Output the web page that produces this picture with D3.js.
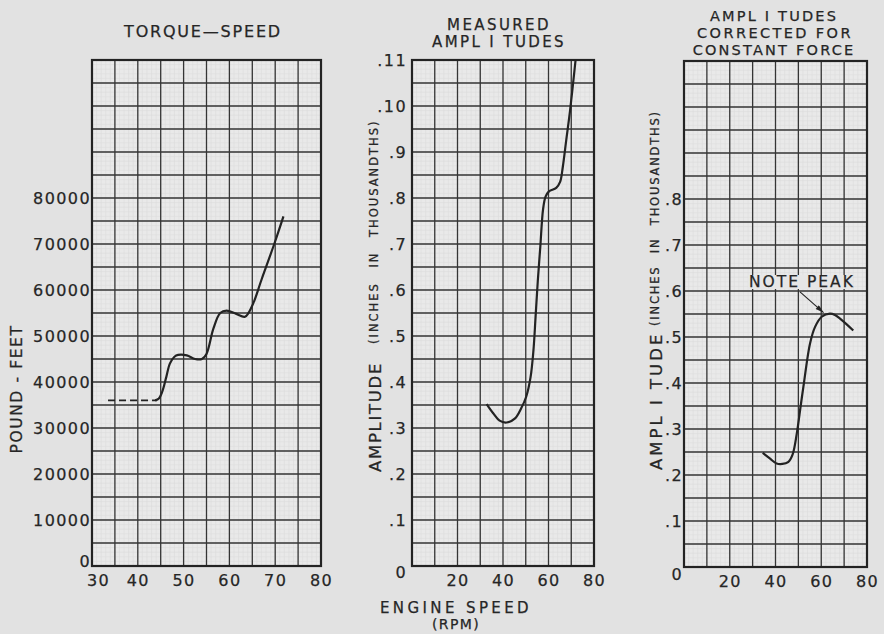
<!DOCTYPE html>
<html><head><meta charset="utf-8">
<script src="https://cdn.jsdelivr.net/npm/d3@7"></script>
<style>
body{margin:0;background:#e2e2e2}
svg{display:block}
text{font-family:"DejaVu Sans",Verdana,sans-serif;fill:#262626;stroke:#262626;stroke-width:0.25px}
</style>
</head><body>
<svg id="c" width="884" height="634"></svg>
<script>
// ---------- data ----------
const torqueDashRpm = [33.5, 44.2];
const torqueDashVal = [36000, 36000];
const torqueRpm = [43.8, 44.6, 45.3, 46.2, 47.0, 48.0, 48.8, 50.7, 52.5, 54.0, 55.0, 56.5, 58.0, 59.4, 61.5, 63.4, 64.9, 67.1, 70.0, 71.8];
const torqueVal = [36000, 36400, 37800, 41000, 44000, 45500, 45900, 45800, 45000, 45000, 46100, 51600, 55000, 55500, 54800, 54200, 56400, 62500, 70600, 76000];

const measuredRpm = [32.8, 35.7, 38.5, 41.6, 45.3, 48.0, 50.2, 52.1, 53.4, 54.3, 55.3, 56.4, 57.6, 58.7, 60.1, 63.4, 65.1, 66.3, 67.8, 69.5, 71.9];
const measuredAmp = [0.352, 0.332, 0.316, 0.312, 0.321, 0.343, 0.368, 0.410, 0.470, 0.540, 0.620, 0.694, 0.775, 0.803, 0.814, 0.822, 0.835, 0.868, 0.926, 0.991, 1.100];

const correctedRpm = [34.4, 37.5, 40.5, 43.0, 45.5, 47.5, 49.3, 51.0, 52.2, 55.1, 57.3, 60.2, 63.8, 66.0, 68.2, 71.0, 74.0];
const correctedAmp = [0.248, 0.236, 0.225, 0.224, 0.228, 0.245, 0.290, 0.350, 0.392, 0.486, 0.522, 0.544, 0.551, 0.548, 0.540, 0.528, 0.514];

const torqueXTicks = [30, 40, 50, 60, 70, 80];
const torqueYTicks = [0, 10000, 20000, 30000, 40000, 50000, 60000, 70000, 80000];
const torqueYLabels = ["0", "10000", "20000", "30000", "40000", "50000", "60000", "70000", "80000"];

const ampXTicks = [20, 40, 60, 80];
const measuredYTicks = [0, 0.1, 0.2, 0.3, 0.4, 0.5, 0.6, 0.7, 0.8, 0.9, 1.0, 1.1];
const measuredYLabels = ["0", ".1", ".2", ".3", ".4", ".5", ".6", ".7", ".8", ".9", ".10", ".11"];
const correctedYTicks = [0, 0.1, 0.2, 0.3, 0.4, 0.5, 0.6, 0.7, 0.8];
const correctedYLabels = ["0", ".1", ".2", ".3", ".4", ".5", ".6", ".7", ".8"];

const notePeak = {label: "NOTE PEAK", from: [50.7, 0.598], to: [61.0, 0.553]};

// ---------- drawing ----------
const svg = d3.select("#c");
svg.append("rect").attr("width", 884).attr("height", 634).attr("fill", "#e2e2e2");
svg.append("defs").append("marker").attr("id", "arr").attr("viewBox", "0 0 10 6").attr("refX", 10).attr("refY", 3)
  .attr("markerWidth", 10).attr("markerHeight", 5).attr("orient", "auto").attr("markerUnits", "userSpaceOnUse")
  .append("path").attr("d", "M0,0 L10,3 L0,6 Z").attr("fill", "#232323");

const ink = "#232323";

function grid(g, x, y, xStep, yStep) {
  const [x0, x1] = x.domain(), [y0, y1] = y.domain();
  const L = x.range()[0], R = x.range()[1], B = y.range()[0], T = y.range()[1];
  g.append("rect").attr("x", L).attr("y", T).attr("width", R - L).attr("height", B - T).attr("fill", "#e9e9e9");
  const nx = Math.round((x1 - x0) / xStep), ny = Math.round((y1 - y0) / yStep);
  const subX = d3.range(0, nx * 5 + 1).map(i => x0 + i * xStep / 5);
  const subY = d3.range(0, ny * 5 + 1).map(i => y0 + i * yStep / 5);
  const sg = g.append("g").attr("stroke", "#dcdcdc").attr("stroke-width", 0.6);
  sg.selectAll(".sx").data(subX).join("line").attr("x1", d => x(d)).attr("x2", d => x(d)).attr("y1", T).attr("y2", B);
  sg.selectAll(".sy").data(subY).join("line").attr("y1", d => y(d)).attr("y2", d => y(d)).attr("x1", L).attr("x2", R);
  const mx = d3.range(0, nx + 1).map(i => x0 + i * xStep);
  const my = d3.range(0, ny + 1).map(i => y0 + i * yStep);
  const mg = g.append("g").attr("stroke", "#353535").attr("stroke-width", 1.3);
  mg.selectAll(".mx").data(mx).join("line").attr("x1", d => x(d)).attr("x2", d => x(d)).attr("y1", T).attr("y2", B);
  mg.selectAll(".my").data(my).join("line").attr("y1", d => y(d)).attr("y2", d => y(d)).attr("x1", L).attr("x2", R);
  g.append("rect").attr("x", L).attr("y", T).attr("width", R - L).attr("height", B - T)
    .attr("fill", "none").attr("stroke", ink).attr("stroke-width", 2.2);
}

function styleAxis(sel) {
  sel.select(".domain").remove();
  sel.selectAll("text").style("font-family", '"DejaVu Sans",Verdana,sans-serif')
    .style("font-size", "16px").style("letter-spacing", "1.4px").attr("fill", "#262626");
}

function axes(g, x, y, xTicks, yTicks, yLabels, yPad, xPad) {
  const ax = g.append("g").attr("transform", `translate(0,${y.range()[0]})`)
    .call(d3.axisBottom(x).tickValues(xTicks).tickFormat(d3.format("d")).tickSize(0).tickPadding(xPad));
  styleAxis(ax);
  const ay = g.append("g").attr("transform", `translate(${x.range()[0]},0)`)
    .call(d3.axisLeft(y).tickValues(yTicks).tickFormat((d, i) => yLabels[i]).tickSize(0).tickPadding(yPad));
  styleAxis(ay);
  return {ax, ay};
}

const line = (x, y) => d3.line().x(d => x(d[0])).y(d => y(d[1])).curve(d3.curveCatmullRom.alpha(0.5));

// Panel 1: torque-speed
{
  const g = svg.append("g");
  const x = d3.scaleLinear().domain([30, 80]).range([92, 321]);
  const y = d3.scaleLinear().domain([0, 110000]).range([566, 60]);
  grid(g, x, y, 5, 5000);
  const {ax, ay} = axes(g, x, y, torqueXTicks, torqueYTicks, torqueYLabels, 1, 9);
  ax.selectAll(".tick text").filter(d => d === 30).attr("dx", "6");
  ay.selectAll(".tick text").filter(d => d === 0).attr("dy", "0.05em");
  g.append("path").datum(torqueDashRpm.map((d, i) => [d, torqueDashVal[i]]))
    .attr("d", line(x, y)).attr("fill", "none").attr("stroke", ink).attr("stroke-width", 1.8).attr("stroke-dasharray", "7,4");
  g.append("path").datum(torqueRpm.map((d, i) => [d, torqueVal[i]]))
    .attr("d", line(x, y)).attr("fill", "none").attr("stroke", ink).attr("stroke-width", 2.2);
  g.append("text").attr("x", 203).attr("y", 37).attr("text-anchor", "middle")
    .style("font-size", "16px").style("letter-spacing", "1.8px").text("TORQUE—SPEED");
  g.append("text").attr("transform", "translate(22,389) rotate(-90)").attr("text-anchor", "middle")
    .style("font-size", "15.5px").style("letter-spacing", "1.6px").text("POUND - FEET");
}

// Panel 2: measured amplitudes
{
  const g = svg.append("g");
  const x = d3.scaleLinear().domain([0, 80]).range([412, 594]);
  const y = d3.scaleLinear().domain([0, 1.1]).range([566, 60]);
  grid(g, x, y, 10, 0.05);
  const {ay} = axes(g, x, y, ampXTicks, measuredYTicks, measuredYLabels, 5, 9);
  ay.selectAll(".tick text").filter(d => d === 0).attr("dy", "0.7em");
  g.append("path").datum(measuredRpm.map((d, i) => [d, measuredAmp[i]]))
    .attr("d", line(x, y)).attr("fill", "none").attr("stroke", ink).attr("stroke-width", 2.2);
  g.append("text").attr("x", 499).attr("y", 30).attr("text-anchor", "middle")
    .style("font-size", "15px").style("letter-spacing", "2.4px").text("MEASURED");
  g.append("text").attr("x", 499).attr("y", 47).attr("text-anchor", "middle")
    .style("font-size", "15px").style("letter-spacing", "2.4px").text("AMPL I TUDES");
  g.append("text").attr("transform", "translate(381,472) rotate(-90)").attr("text-anchor", "start")
    .style("font-size", "16.5px").style("letter-spacing", "1.7px").text("AMPLITUDE");
  g.append("text").attr("transform", "translate(378,344) rotate(-90)").attr("text-anchor", "start")
    .style("font-size", "11.5px").style("letter-spacing", "2px").style("word-spacing", "9px")
    .text("(INCHES IN THOUSANDTHS)");
  g.append("text").attr("x", 456).attr("y", 613).attr("text-anchor", "middle")
    .style("font-size", "15px").style("letter-spacing", "3.4px").text("ENGINE SPEED");
  g.append("text").attr("x", 456).attr("y", 629).attr("text-anchor", "middle")
    .style("font-size", "14px").style("letter-spacing", "1.4px").text("(RPM)");
}

// Panel 3: corrected amplitudes
{
  const g = svg.append("g");
  const x = d3.scaleLinear().domain([0, 80]).range([684, 867]);
  const y = d3.scaleLinear().domain([0, 1.1]).range([567, 61]);
  grid(g, x, y, 10, 0.05);
  const {ay} = axes(g, x, y, ampXTicks, correctedYTicks, correctedYLabels, 1, 9);
  ay.selectAll(".tick text").filter(d => d === 0).attr("dy", "0.75em");
  g.append("path").datum(correctedRpm.map((d, i) => [d, correctedAmp[i]]))
    .attr("d", line(x, y)).attr("fill", "none").attr("stroke", ink).attr("stroke-width", 2.2);
  // note peak
  const tw = g.append("text").attr("x", 749).attr("y", 287).attr("text-anchor", "start")
    .style("font-size", "15.5px").style("letter-spacing", "2px").text(notePeak.label);
  const bb = tw.node().getBBox();
  g.insert("rect", () => tw.node()).attr("x", bb.x - 1).attr("y", bb.y + 2).attr("width", bb.width - 1).attr("height", bb.height - 4).attr("fill", "#e6e6e6");
  g.append("line").attr("x1", x(notePeak.from[0])).attr("y1", y(notePeak.from[1]))
    .attr("x2", x(notePeak.to[0])).attr("y2", y(notePeak.to[1]))
    .attr("stroke", ink).attr("stroke-width", 1.1).attr("marker-end", "url(#arr)");
  g.append("text").attr("x", 774).attr("y", 21).attr("text-anchor", "middle")
    .style("font-size", "14.5px").style("letter-spacing", "2.2px").text("AMPL I TUDES");
  g.append("text").attr("x", 775).attr("y", 38).attr("text-anchor", "middle")
    .style("font-size", "14.5px").style("letter-spacing", "2.4px").text("CORRECTED FOR");
  g.append("text").attr("x", 774).attr("y", 55).attr("text-anchor", "middle")
    .style("font-size", "14.5px").style("letter-spacing", "2.2px").text("CONSTANT FORCE");
  g.append("text").attr("transform", "translate(662,470) rotate(-90)").attr("text-anchor", "start")
    .style("font-size", "16.5px").style("letter-spacing", "3px").text("AMPL I TUDE");
  g.append("text").attr("transform", "translate(659,326) rotate(-90)").attr("text-anchor", "start")
    .style("font-size", "11.5px").style("letter-spacing", "1.8px").style("word-spacing", "7px")
    .text("(INCHES IN THOUSANDTHS)");
}
</script>
</body></html>
